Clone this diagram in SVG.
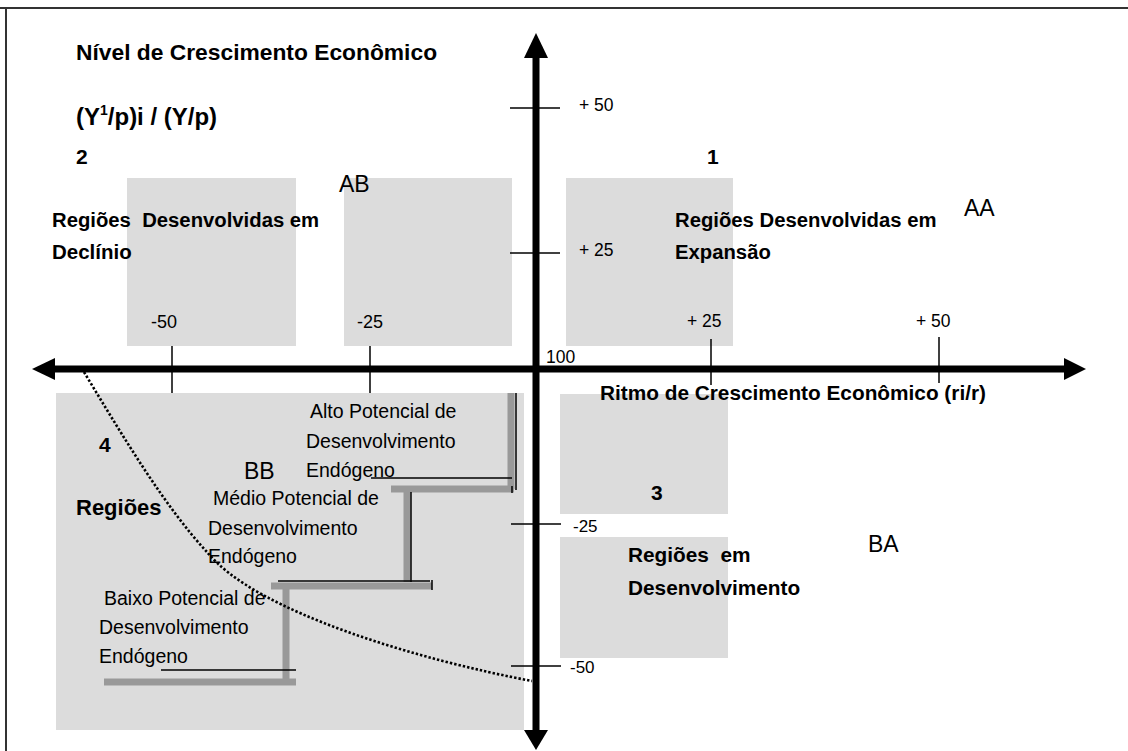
<svg xmlns="http://www.w3.org/2000/svg" width="1128" height="751" viewBox="0 0 1128 751">
<style>
.b{font-family:"Liberation Sans",Arial,sans-serif;font-weight:bold;fill:#000}
.r{font-family:"Liberation Sans",Arial,sans-serif;fill:#000}
.box{fill:#dcdcdc}
.tick{stroke:#000;stroke-width:1.5}
.gstep{stroke:#999;stroke-width:7;fill:none}
.thin{stroke:#000;stroke-width:1.5;fill:none}
</style>
<rect width="1128" height="751" fill="#fff"/>
<g id="frame"><line x1="0" y1="8" x2="1128" y2="8" stroke="#333" stroke-width="2"/><line x1="6" y1="8" x2="6" y2="751" stroke="#333" stroke-width="2"/></g>
<g id="boxes">
<rect class="box" x="127" y="178" width="169" height="168"/>
<rect class="box" x="344" y="178" width="168" height="168"/>
<rect class="box" x="566" y="178" width="167" height="168"/>
<rect class="box" x="560" y="394" width="168" height="120"/>
<rect class="box" x="560" y="537" width="168" height="121"/>
<rect class="box" x="56" y="393" width="468" height="337"/>
</g>
<g id="steps">
<line class="gstep" x1="511" y1="393" x2="511" y2="489"/>
<line class="gstep" x1="391" y1="489" x2="514" y2="489"/>
<line class="thin" x1="516" y1="393" x2="516" y2="490"/>
<line class="thin" x1="371" y1="478" x2="512" y2="478"/>
<line class="thin" x1="512" y1="486" x2="512" y2="493"/>
<line class="gstep" x1="407" y1="489" x2="407" y2="582"/>
<line class="gstep" x1="271" y1="586" x2="432" y2="586"/>
<line class="thin" x1="411" y1="492" x2="411" y2="582"/>
<line class="thin" x1="278" y1="581" x2="430" y2="581"/>
<line class="thin" x1="432" y1="580" x2="432" y2="590"/>
<line class="gstep" x1="286" y1="586" x2="286" y2="682"/>
<line class="gstep" x1="104" y1="682" x2="296" y2="682"/>
<line class="thin" x1="161" y1="670" x2="296" y2="670"/>
</g>
<g id="connectors">
<line x1="536" y1="52" x2="536" y2="735" stroke="#000" stroke-width="7"/>
<polygon points="536,33 524,58 548,58" fill="#000"/>
<polygon points="536,750 524,730 548,730" fill="#000"/>
<line x1="50" y1="369" x2="1068" y2="369" stroke="#000" stroke-width="7"/>
<polygon points="32,369 55,358 55,380" fill="#000"/>
<polygon points="1086,369 1064,358 1064,380" fill="#000"/>
<line class="tick" x1="510" y1="108" x2="560" y2="108"/>
<line class="tick" x1="510" y1="253" x2="560" y2="253"/>
<line class="tick" x1="511" y1="524" x2="561" y2="524"/>
<line class="tick" x1="511" y1="666" x2="561" y2="666"/>
<line class="tick" x1="172" y1="346" x2="172" y2="393"/>
<line class="tick" x1="370" y1="346" x2="370" y2="393"/>
<line class="tick" x1="711" y1="339" x2="711" y2="385"/>
<line class="tick" x1="939" y1="337" x2="939" y2="383"/>
<path d="M84,372 C125,440 166,508 207,552 C255,612 420,660 532,681" fill="none" stroke="#000" stroke-width="2.6" stroke-dasharray="2.4,2"/>
</g>
<g id="axis-labels">
<text class="b" x="76" y="60" font-size="22.8">Nível de Crescimento Econômico</text>
<text class="b" x="76" y="125" font-size="24">(Y<tspan font-size="14" dy="-10">1</tspan><tspan dy="10">/p)i / (Y/p)</tspan></text>
<text class="b" x="600" y="400" font-size="20.8">Ritmo de Crescimento Econômico (ri/r)</text>
<text class="r" x="546" y="363" font-size="17.5">100</text>
<text class="r" x="579" y="111" font-size="17.5">+ 50</text>
<text class="r" x="579" y="256" font-size="17.5">+ 25</text>
<text class="r" x="573" y="532" font-size="17">-25</text>
<text class="r" x="570" y="673" font-size="17">-50</text>
<text class="r" x="151" y="328" font-size="18">-50</text>
<text class="r" x="357" y="328" font-size="18">-25</text>
<text class="r" x="687" y="327" font-size="17.5">+ 25</text>
<text class="r" x="916" y="327" font-size="17.5">+ 50</text>
</g>
<g id="q2">
<text class="b" x="76" y="164" font-size="21">2</text>
<text class="r" x="339" y="192" font-size="23">AB</text>
<text class="b" x="52" y="227" font-size="20.3" xml:space="preserve">Regiões  Desenvolvidas em</text>
<text class="b" x="52" y="259" font-size="20.5">Declínio</text>
</g>
<g id="q1">
<text class="b" x="707" y="164" font-size="21">1</text>
<text class="b" x="675" y="227" font-size="20.3">Regiões Desenvolvidas em</text>
<text class="b" x="675" y="259" font-size="20.3">Expansão</text>
<text class="r" x="964" y="216" font-size="23">AA</text>
</g>
<g id="q3">
<text class="b" x="651" y="500" font-size="21">3</text>
<text class="r" x="868" y="552" font-size="23">BA</text>
<text class="b" x="628" y="562" font-size="20.8" xml:space="preserve">Regiões  em</text>
<text class="b" x="628" y="595" font-size="20.8">Desenvolvimento</text>
</g>
<g id="q4">
<text class="b" x="99" y="452" font-size="21">4</text>
<text class="r" x="244" y="479" font-size="23">BB</text>
<text class="b" x="76" y="515" font-size="22">Regiões</text>
<text class="r" x="310" y="418" font-size="19.5">Alto Potencial de</text>
<text class="r" x="306" y="448" font-size="19.5">Desenvolvimento</text>
<text class="r" x="306" y="477" font-size="19.5">Endógeno</text>
<text class="r" x="213" y="505" font-size="19.5">Médio Potencial de</text>
<text class="r" x="208" y="535" font-size="19.5">Desenvolvimento</text>
<text class="r" x="208" y="563" font-size="19.5">Endógeno</text>
<text class="r" x="104" y="605" font-size="19.5">Baixo Potencial de</text>
<text class="r" x="99" y="634" font-size="19.5">Desenvolvimento</text>
<text class="r" x="99" y="663" font-size="19.5">Endógeno</text>
</g>
</svg>
